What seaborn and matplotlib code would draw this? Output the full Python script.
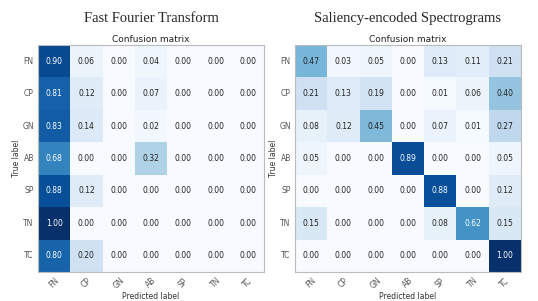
import numpy as np
import pandas as pd
import matplotlib
matplotlib.use("Agg")
import matplotlib.pyplot as plt
import seaborn as sns

# ---------- DATA ----------
LABELS = ["FN", "CP", "GN", "AB", "SP", "TN", "TC"]

FFT_MATRIX = [
    [0.90, 0.06, 0.00, 0.04, 0.00, 0.00, 0.00],
    [0.81, 0.12, 0.00, 0.07, 0.00, 0.00, 0.00],
    [0.83, 0.14, 0.00, 0.02, 0.00, 0.00, 0.00],
    [0.68, 0.00, 0.00, 0.32, 0.00, 0.00, 0.00],
    [0.88, 0.12, 0.00, 0.00, 0.00, 0.00, 0.00],
    [1.00, 0.00, 0.00, 0.00, 0.00, 0.00, 0.00],
    [0.80, 0.20, 0.00, 0.00, 0.00, 0.00, 0.00],
]

SALIENCY_MATRIX = [
    [0.47, 0.03, 0.05, 0.00, 0.13, 0.11, 0.21],
    [0.21, 0.13, 0.19, 0.00, 0.01, 0.06, 0.40],
    [0.08, 0.12, 0.45, 0.00, 0.07, 0.01, 0.27],
    [0.05, 0.00, 0.00, 0.89, 0.00, 0.00, 0.05],
    [0.00, 0.00, 0.00, 0.00, 0.88, 0.00, 0.12],
    [0.15, 0.00, 0.00, 0.00, 0.08, 0.62, 0.15],
    [0.00, 0.00, 0.00, 0.00, 0.00, 0.00, 1.00],
]

TITLES = ["Fast Fourier Transform", "Saliency-encoded Spectrograms"]

sns.set_style("white")
plt.rcParams["font.family"] = ["DejaVu Sans"]


def draw_cm(ax, matrix, title):
    df = pd.DataFrame(matrix, index=LABELS, columns=LABELS)
    sns.heatmap(df, ax=ax, cmap="Blues", vmin=0, vmax=1, cbar=False,
                annot=True, fmt=".2f", square=False,
                annot_kws={"fontsize": 5.5})
    # white text on dark cells, like the usual sklearn-style plot
    vals = np.array(matrix).ravel()
    for txt, v in zip(ax.texts, vals):
        txt.set_color("white" if v > 0.5 else "#222222")
    for s in ax.spines.values():
        s.set_visible(True)
        s.set_color("#bbbbbb")
        s.set_linewidth(0.8)
    ax.set_title("Confusion matrix", fontsize=6.5, pad=2, color="#222222")
    ax.set_xlabel("Predicted label", fontsize=5.5, labelpad=1, color="#333333")
    ax.set_ylabel("True label", fontsize=5.5, labelpad=1, color="#333333")
    ax.set_xticklabels(LABELS, rotation=45, fontsize=5.5, color="#333333")
    ax.set_yticklabels(LABELS, rotation=0, fontsize=5.5, color="#333333")
    ax.tick_params(length=2, width=0.5, pad=1, colors="#555555")
    ax.figure.text((ax.get_position().x0 + ax.get_position().x1) / 2, 0.94,
                   title, ha="center", va="center", fontsize=10.5,
                   family=["Liberation Serif", "DejaVu Serif"])


fig = plt.figure(figsize=(5.38, 3.01), dpi=100)
ax1 = fig.add_axes([38 / 538, 1 - 272 / 301, 226 / 538, 227 / 301])
ax2 = fig.add_axes([295 / 538, 1 - 272 / 301, 226 / 538, 227 / 301])

draw_cm(ax1, FFT_MATRIX, TITLES[0])
draw_cm(ax2, SALIENCY_MATRIX, TITLES[1])

fig.savefig("out.png", dpi=100)
